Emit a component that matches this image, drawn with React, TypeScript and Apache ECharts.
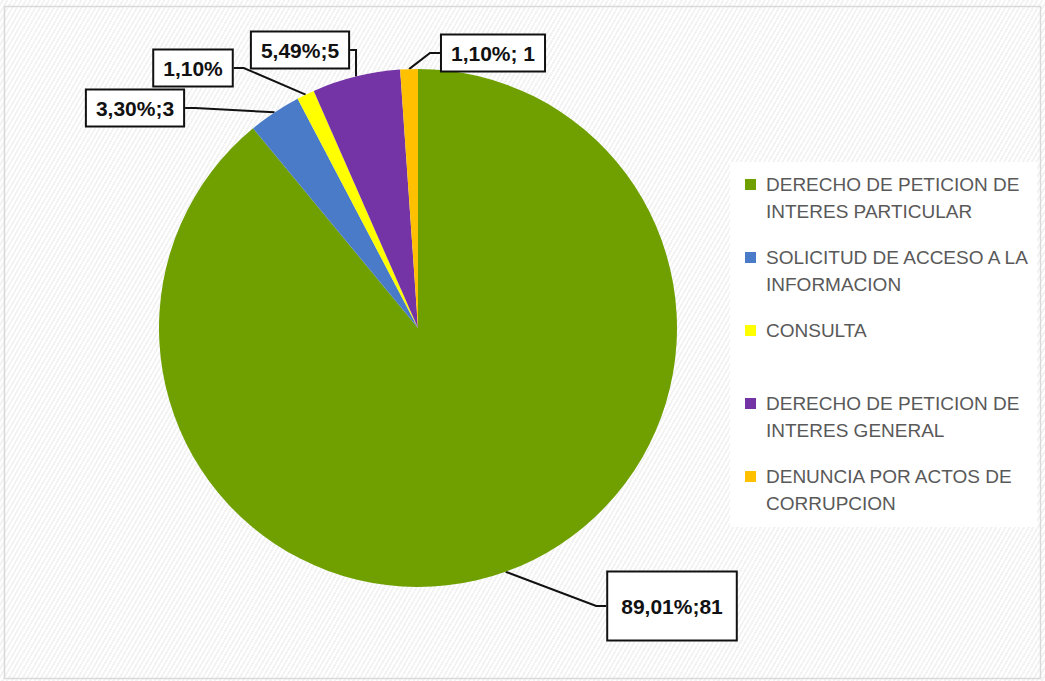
import React, { useEffect, useRef } from "react";
import * as echarts from "echarts";

const categories = [
  "DERECHO DE PETICION DE\nINTERES PARTICULAR",
  "SOLICITUD DE ACCESO A LA\nINFORMACION",
  "CONSULTA\n ",
  "DERECHO DE PETICION DE\nINTERES GENERAL",
  "DENUNCIA POR ACTOS DE\nCORRUPCION",
];
const values = [81, 3, 1, 5, 1];
const labelTexts = ["89,01%;81", "3,30%;3", "1,10%", "5,49%;5", "1,10%; 1"];
const colors = ["#6fa000", "#4a7bc8", "#ffff00", "#7434a6", "#ffc000"];
const labelCenters: [number, number][] = [
  [672, 606],
  [135, 108],
  [193, 68],
  [300, 50],
  [493, 53],
];

export default function App() {
  const ref = useRef<HTMLDivElement>(null);
  useEffect(() => {
    document.body.style.margin = "0";
    const chart = echarts.init(ref.current!, null, { renderer: "svg" });
    const option: any = {
      animation: false,
      graphic: [
        {
          type: "rect",
          shape: { x: 4.5, y: 6.5, width: 1036, height: 672 },
          style: { fill: "none", stroke: "#d9d9d9", lineWidth: 1.5 },
          silent: true,
          z: -1,
        },
      ],
      legend: {
        orient: "vertical",
        left: 730,
        top: 162,
        backgroundColor: "#ffffff",
        padding: [9, 6, 10, 15],
        itemGap: 19,
        itemWidth: 16,
        itemHeight: 38,
        icon: "path://M0,0H11V11H0Z M15.95,37.95H16V38H15.95Z",
        itemStyle: { borderWidth: 0 },
        textStyle: {
          fontFamily: "Liberation Sans",
          fontSize: 19,
          color: "#595959",
          lineHeight: 27,
        },
        data: categories,
      },
      series: [
        {
          type: "pie",
          center: [418, 328],
          radius: [0, 259],
          startAngle: 90,
          clockwise: true,
          avoidLabelOverlap: false,
          itemStyle: { borderWidth: 0 },
          label: {
            show: true,
            position: "outside",
            formatter: (p: any) => labelTexts[p.dataIndex],
            fontFamily: "Liberation Sans",
            fontWeight: "bold",
            fontSize: 21,
            color: "#111111",
            backgroundColor: "#ffffff",
            borderColor: "#111111",
            borderWidth: 2,
            padding: [7, 9],
          },
          labelLine: {
            show: true,
            length: 15,
            length2: 10,
            lineStyle: { color: "#111111", width: 2 },
          },
          labelLayout: (p: any) => {
            const c = labelCenters[p.dataIndex];
            return { x: c[0], y: c[1], align: "center", verticalAlign: "middle" };
          },
          data: values.map((v, i) => ({
            name: categories[i],
            value: v,
            itemStyle: { color: colors[i] },
            label: i === 0 ? { padding: [23, 13] } : {},
          })),
        },
      ],
    };
    chart.setOption(option);
    return () => chart.dispose();
  }, []);
  return (
    <div
      ref={ref}
      style={{
        width: 1045,
        height: 681,
        background:
          "repeating-linear-gradient(-60deg, #ffffff 0px, #ffffff 2px, #f3f3f3 2px, #f3f3f3 4px)",
      }}
    />
  );
}
